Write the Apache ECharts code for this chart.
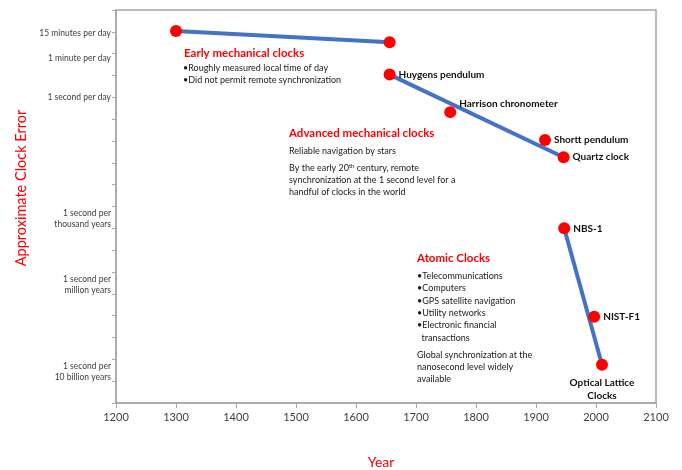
<!DOCTYPE html>
<html>
<head>
<meta charset="utf-8">
<script src="https://cdn.jsdelivr.net/npm/echarts@6/dist/echarts.min.js"></script>
<style>html,body{margin:0;padding:0;background:#fff}#chart{width:682px;height:470px}</style>
</head>
<body>
<div id="chart"></div>
<script>
// Clock milestones: year and approximate error (seconds per day)
const clockNames = ['', '', 'Huygens pendulum', 'Harrison chronometer', 'Shortt pendulum', 'Quartz clock', 'NBS-1', 'NIST-F1', 'Optical Lattice\nClocks'];
const clockYears = [1300, 1656, 1656, 1757, 1915, 1946, 1947, 1997, 2010];
const clockErrors = [1100, 330, 11, 0.21, 0.011, 0.0018, 1e-6, 9e-11, 5.7e-13];

// Trend line segments (indices into the arrays above)
const earlySegment = [0, 1];
const advancedSegment = [2, 5];
const atomicSegment = [6, 8];

// Y axis reference labels (seconds per day)
const yLabelValues = [900, 60, 1, 1 / 365250, 1 / 365250000, 1 / 3652500000000];
const yLabelTexts = ['15 minutes per day', '1 minute per day', '1 second per day', '1 second per\nthousand years', '1 second per\nmillion years', '1 second per\n10 billion years'];
const yTickExponents = [-14, -13, -12, -11, -10, -9, -8, -7, -6, -5, -4, -3, -2, -1, 0, 1, 2, 3, 4];

const xMin = 1200, xMax = 2100, xStep = 100;

// Annotation texts
const earlyTitle = 'Early mechanical clocks';
const earlyLines = ['•Roughly measured local time of day', '•Did not permit remote synchronization'];
const advTitle = 'Advanced mechanical clocks';
const advLines1 = ['Reliable navigation by stars'];
const advLines2 = ['{n|By the early 20}{s|th}{n| century, remote}', 'synchronization at the 1 second level for a', 'handful of clocks in the world'];
const atomTitle = 'Atomic Clocks';
const atomLines1 = ['•Telecommunications', '•Computers', '•GPS satellite navigation', '•Utility networks', '•Electronic financial', '  transactions'];
const atomLines2 = ['Global synchronization at the', 'nanosecond level widely', 'available'];

const FONT = 'Lato, "Open Sans", sans-serif';
const RED = '#FF0000';
const BLUE = '#4472C4';

function seg(idx) {
  return idx.map(i => [clockYears[i], clockErrors[i]]);
}

const labelOffsets = {
  'Harrison chronometer': [0, -8]
};

const pointData = clockYears.map((y, i) => {
  const d = { value: [y, clockErrors[i]], name: clockNames[i] };
  if (clockNames[i]) {
    if (i === 8) {
      d.label = { show: true, position: 'bottom', distance: 6, align: 'center', lineHeight: 13 };
    } else {
      d.label = { show: true, position: 'right', distance: 3, offset: labelOffsets[clockNames[i]] || [0, 0] };
    }
  }
  return d;
});

function textLines(lines, x, y0, lh, opts) {
  return lines.map((t, k) => ({
    type: 'text', x: x, y: y0 + k * lh,
    style: Object.assign({ text: t, fill: '#1a1a1a', font: '9px ' + FONT, verticalAlign: 'middle', align: 'left' }, opts || {})
  }));
}

const titleFont = 'bold 11.5px ' + FONT;

const graphics = [].concat(
  [{ type: 'text', x: 184, y: 53, style: { text: earlyTitle, fill: RED, font: titleFont, verticalAlign: 'middle' } }],
  textLines(earlyLines, 183, 67.7, 12.6),
  [{ type: 'text', x: 289, y: 133, style: { text: advTitle, fill: RED, font: titleFont, verticalAlign: 'middle' } }],
  textLines(advLines1, 289, 151.5, 12),
  advLines2.map((t, k) => ({
    type: 'text', x: 289, y: 168.3 + k * 11.7,
    style: {
      text: t.indexOf('{') === 0 ? t : '{n|' + t + '}', verticalAlign: 'middle', align: 'left',
      rich: {
        n: { fill: '#1a1a1a', font: '9px ' + FONT },
        s: { fill: '#1a1a1a', font: '6px ' + FONT, verticalAlign: 'top', padding: [0, 0, 4, 0] }
      }
    }
  })),
  [{ type: 'text', x: 417, y: 258, style: { text: atomTitle, fill: RED, font: titleFont, verticalAlign: 'middle' } }],
  textLines(atomLines1, 417, 276, 12.35),
  textLines(atomLines2, 417, 354.7, 12),
  [
    { type: 'text', x: 381, y: 462, style: { text: 'Year', fill: RED, font: '14px ' + FONT, align: 'center', verticalAlign: 'middle' } },
    { type: 'text', x: 21, y: 188, rotation: Math.PI / 2, style: { text: 'Approximate Clock Error', fill: RED, font: '14.5px ' + FONT, align: 'center', verticalAlign: 'middle' } }
  ]
);

const chart = echarts.init(document.getElementById('chart'));
chart.setOption({
  backgroundColor: '#ffffff',
  animation: false,
  grid: { left: 116, right: 26, top: 10, bottom: 67, show: true, borderColor: '#A6A6A6', borderWidth: 1.5, backgroundColor: 'transparent' },
  xAxis: {
    type: 'value', min: xMin, max: xMax, interval: xStep,
    axisLine: { lineStyle: { color: '#A6A6A6', width: 1.5 } },
    axisTick: { show: true, length: 5, lineStyle: { color: '#A6A6A6' } },
    axisLabel: { color: '#404040', fontSize: 11, fontFamily: FONT, margin: 9, formatter: v => String(v) },
    splitLine: { show: false }
  },
  yAxis: {
    type: 'log', logBase: 10, min: 1e-14, max: 1e4,
    axisLine: { show: true, lineStyle: { color: '#A6A6A6', width: 1.5 } },
    axisTick: { show: true, length: 4, lineStyle: { color: '#A6A6A6' }, customValues: yTickExponents.map(e => Math.pow(10, e)) },
    axisLabel: {
      color: '#404040', fontSize: 8.5, fontFamily: FONT, margin: 5, lineHeight: 11, align: 'right',
      customValues: yLabelValues,
      formatter: function (v) {
        let best = 0, bd = Infinity;
        yLabelValues.forEach((lv, i) => { const d = Math.abs(Math.log10(lv) - Math.log10(v)); if (d < bd) { bd = d; best = i; } });
        return yLabelTexts[best];
      }
    },
    splitLine: { show: false }
  },
  series: [
    { type: 'line', data: seg(earlySegment), symbol: 'none', lineStyle: { color: BLUE, width: 4 }, z: 2 },
    { type: 'line', data: seg(advancedSegment), symbol: 'none', lineStyle: { color: BLUE, width: 4 }, z: 2 },
    { type: 'line', data: seg(atomicSegment), symbol: 'none', lineStyle: { color: BLUE, width: 4 }, z: 2 },
    {
      type: 'scatter', data: pointData, symbolSize: 12, itemStyle: { color: RED, opacity: 1 }, z: 3,
      label: { show: false, formatter: '{b}', color: '#111', fontSize: 10, fontWeight: 'bold', fontFamily: FONT }
    }
  ],
  graphic: graphics
});
</script>
</body>
</html>
